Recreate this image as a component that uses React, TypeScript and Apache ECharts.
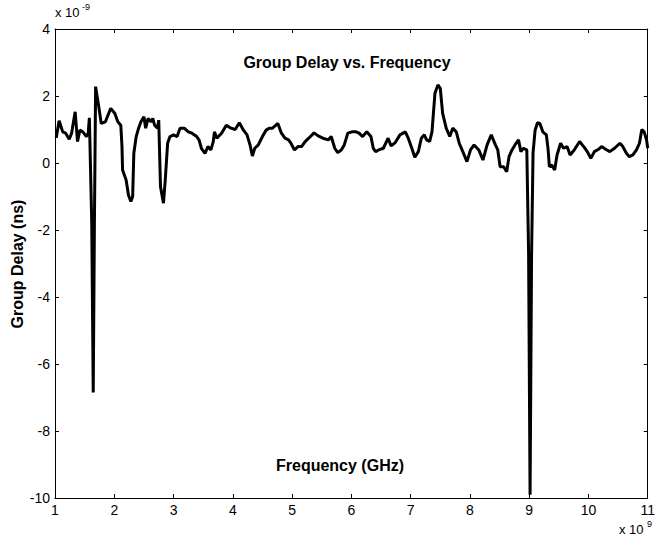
import React, { useEffect, useRef } from "react";
import * as echarts from "echarts";

// Frequency (x 10^9 Hz)
const freq = [
  1.02, 1.07, 1.13, 1.18, 1.24, 1.28, 1.34, 1.38, 1.42, 1.47, 1.53, 1.56, 1.58,
  1.62, 1.645, 1.665, 1.685, 1.73, 1.78, 1.85, 1.94, 2.01, 2.06, 2.11, 2.13,
  2.14, 2.2, 2.24, 2.28, 2.31, 2.33, 2.37, 2.41, 2.45, 2.5, 2.53, 2.57, 2.62,
  2.65, 2.68, 2.73, 2.75, 2.78, 2.83, 2.86, 2.9, 2.94, 3.0, 3.06, 3.11, 3.18,
  3.25, 3.31, 3.39, 3.43, 3.47, 3.53, 3.58, 3.63, 3.67, 3.69, 3.73, 3.81, 3.89,
  3.97, 4.04, 4.11, 4.18, 4.24, 4.29, 4.33, 4.37, 4.43, 4.5, 4.56, 4.62, 4.67,
  4.76, 4.82, 4.88, 4.94, 4.98, 5.04, 5.1, 5.16, 5.22, 5.28, 5.37, 5.44, 5.52,
  5.61, 5.66, 5.72, 5.77, 5.83, 5.88, 5.94, 6.01, 6.08, 6.13, 6.19, 6.26, 6.33,
  6.37, 6.41, 6.46, 6.54, 6.62, 6.67, 6.74, 6.82, 6.91, 6.96, 7.02, 7.07, 7.13,
  7.18, 7.23, 7.27, 7.32, 7.36, 7.41, 7.46, 7.5, 7.54, 7.6, 7.66, 7.71, 7.77,
  7.82, 7.88, 7.95, 8.01, 8.07, 8.15, 8.22, 8.29, 8.36, 8.43, 8.47, 8.51, 8.57,
  8.62, 8.66, 8.71, 8.76, 8.82, 8.86, 8.9, 8.96, 8.99, 9.015, 9.04, 9.065, 9.1,
  9.14, 9.18, 9.23, 9.29, 9.32, 9.34, 9.38, 9.43, 9.47, 9.53, 9.58, 9.64, 9.69,
  9.76, 9.85, 9.92, 9.98, 10.04, 10.1, 10.17, 10.22, 10.29, 10.36, 10.44,
  10.53, 10.58, 10.64, 10.69, 10.75, 10.81, 10.86, 10.9, 10.94, 10.98, 11.0,
];

// Group delay (x 10^-9 s)
const delay = [
  0.75, 1.26, 0.93, 0.89, 0.71, 0.89, 1.53, 0.64, 0.98, 0.93, 0.79, 0.89, 1.35,
  -1.8, -6.85, -1.8, 2.28, 1.78, 1.18, 1.23, 1.63, 1.48, 1.23, 1.13, 0.49,
  -0.21, -0.51, -0.96, -1.15, -1.0, 0.29, 0.79, 1.04, 1.23, 1.38, 1.04, 1.33,
  1.23, 1.33, 1.13, 1.04, 1.28, -0.71, -1.2, -0.51, 0.59, 0.79, 0.84, 0.79,
  1.04, 1.04, 0.93, 0.89, 0.79, 0.69, 0.44, 0.29, 0.49, 0.39, 0.64, 0.93, 0.74,
  0.89, 1.13, 1.04, 1.0, 1.2, 0.98, 0.84, 0.54, 0.21, 0.44, 0.54, 0.79, 0.98,
  1.04, 1.04, 1.18, 0.89, 0.74, 0.69, 0.59, 0.39, 0.49, 0.49, 0.64, 0.74, 0.9,
  0.81, 0.74, 0.69, 0.79, 0.44, 0.31, 0.39, 0.54, 0.89, 0.93, 0.93, 0.89, 0.79,
  0.93, 0.79, 0.44, 0.34, 0.39, 0.44, 0.74, 0.51, 0.61, 0.84, 0.93, 0.74, 0.44,
  0.17, 0.34, 0.74, 0.84, 0.69, 0.64, 0.93, 2.08, 2.33, 2.23, 1.48, 1.04, 0.79,
  1.04, 0.93, 0.59, 0.34, 0.04, 0.39, 0.54, 0.39, 0.09, 0.54, 0.84, 0.54, 0.39,
  -0.11, -0.11, -0.26, 0.19, 0.39, 0.54, 0.69, 0.34, 0.44, 0.39, -2.7, -9.9,
  -2.8, 0.3, 0.98, 1.2, 1.18, 0.93, 0.84, 0.39, -0.11, -0.06, -0.21, 0.24,
  0.59, 0.44, 0.49, 0.24, 0.39, 0.64, 0.49, 0.34, 0.14, 0.34, 0.41, 0.49, 0.41,
  0.34, 0.44, 0.59, 0.49, 0.29, 0.19, 0.24, 0.39, 0.59, 1.0, 0.93, 0.69, 0.44,
];

const FONT = "'Liberation Sans', Arial, Helvetica, sans-serif";

export default function App() {
  const ref = useRef<HTMLDivElement>(null);
  useEffect(() => {
    if (!ref.current) return;
    const chart = echarts.init(ref.current, undefined, { renderer: "svg" });
    const data = freq.map((f, i) => [f, delay[i]]);
    const tickCommon = {
      show: true,
      inside: true,
      length: 4,
      lineStyle: { color: "#000", width: 1 },
    };
    const lineCommon = { show: true, lineStyle: { color: "#000", width: 1 } };
    chart.setOption({
      animation: false,
      backgroundColor: "#fff",
      grid: { left: 55, right: 2, top: 29, bottom: 44, containLabel: false },
      xAxis: [
        {
          type: "value",
          min: 1,
          max: 11,
          interval: 1,
          position: "bottom",
          axisLine: { ...lineCommon, onZero: false },
          axisTick: tickCommon,
          splitLine: { show: false },
          axisLabel: {
            color: "#000",
            fontSize: 14,
            fontFamily: FONT,
            margin: 5,
          },
        },
        {
          type: "value",
          min: 1,
          max: 11,
          interval: 1,
          position: "top",
          axisLine: { ...lineCommon, onZero: false },
          axisTick: tickCommon,
          splitLine: { show: false },
          axisLabel: { show: false },
        },
      ],
      yAxis: [
        {
          type: "value",
          min: -10,
          max: 4,
          interval: 2,
          position: "left",
          axisLine: { ...lineCommon, onZero: false },
          axisTick: tickCommon,
          splitLine: { show: false },
          axisLabel: {
            color: "#000",
            fontSize: 14,
            fontFamily: FONT,
            margin: 5,
          },
        },
        {
          type: "value",
          min: -10,
          max: 4,
          interval: 2,
          position: "right",
          axisLine: { ...lineCommon, onZero: false },
          axisTick: tickCommon,
          splitLine: { show: false },
          axisLabel: { show: false },
        },
      ],
      series: [
        {
          type: "line",
          data,
          showSymbol: false,
          symbol: "none",
          lineStyle: { color: "#000", width: 3 },
          xAxisIndex: 0,
          yAxisIndex: 0,
        },
      ],
      graphic: [
        {
          type: "text",
          x: 347,
          y: 62,
          style: {
            text: "Group Delay vs. Frequency",
            font: `bold 16px ${FONT}`,
            fill: "#000",
            textAlign: "center",
            textVerticalAlign: "middle",
          },
        },
        {
          type: "text",
          x: 340,
          y: 465,
          style: {
            text: "Frequency (GHz)",
            font: `bold 16px ${FONT}`,
            fill: "#000",
            textAlign: "center",
            textVerticalAlign: "middle",
          },
        },
        {
          type: "text",
          x: 17,
          y: 264,
          rotation: Math.PI / 2,
          style: {
            text: "Group Delay (ns)",
            font: `bold 16px ${FONT}`,
            fill: "#000",
            textAlign: "center",
            textVerticalAlign: "middle",
          },
        },
        {
          type: "text",
          left: 55,
          top: 6,
          style: { text: "x 10", font: `13px ${FONT}`, fill: "#000" },
        },
        {
          type: "text",
          left: 82,
          top: 2,
          style: { text: "-9", font: `9px ${FONT}`, fill: "#000" },
        },
        {
          type: "text",
          left: 619,
          top: 523,
          style: { text: "x 10", font: `13px ${FONT}`, fill: "#000" },
        },
        {
          type: "text",
          left: 647,
          top: 519,
          style: { text: "9", font: `9px ${FONT}`, fill: "#000" },
        },
      ],
    });
    return () => chart.dispose();
  }, []);
  return (
    <div
      ref={ref}
      style={{ position: "fixed", left: 0, top: 0, width: 658, height: 542 }}
    />
  );
}
